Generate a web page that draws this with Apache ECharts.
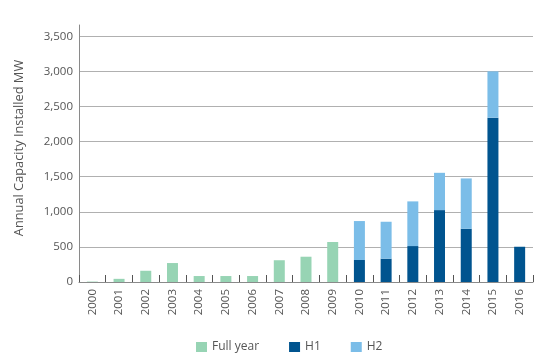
<!DOCTYPE html>
<html>
<head>
<meta charset="utf-8">
<script src="https://cdn.jsdelivr.net/npm/echarts@6/dist/echarts.min.js"></script>
<style>
html,body{margin:0;padding:0;background:#fff;}
#c{width:547px;height:359px;}
</style>
</head>
<body>
<div id="c"></div>
<script>
var years = ['2000','2001','2002','2003','2004','2005','2006','2007','2008','2009','2010','2011','2012','2013','2014','2015','2016'];
var fullYear = [6, 45, 160, 270, 85, 85, 85, 310, 360, 570, null, null, null, null, null, null, null];
var h1 = [null, null, null, null, null, null, null, null, null, null, 313, 332, 512, 1024, 758, 2340, 502];
var h2 = [null, null, null, null, null, null, null, null, null, null, 555, 526, 636, 531, 717, 660, null];
var yTickInterval = 500;
var yAxisTitle = 'Annual Capacity Installed MW';

var font = 'Open Sans';
var chart = echarts.init(document.getElementById('c'), null, {renderer: 'canvas'});
chart.setOption({
  animation: false,
  textStyle: {fontFamily: font},
  grid: {left: 79, right: 14, top: 25, bottom: 77, containLabel: false},
  legend: {
    left: 191, top: 336,
    itemWidth: 11, itemHeight: 10, itemGap: 30,
    icon: 'rect',
    textStyle: {fontFamily: font, fontSize: 12, color: '#555'},
    data: ['Full year', 'H1', 'H2']
  },
  graphic: [{
    type: 'text', x: 19, y: 148, rotation: Math.PI / 2,
    style: {text: yAxisTitle, fontFamily: font, fontSize: 12.8, fill: '#555', textAlign: 'center', textVerticalAlign: 'middle'}
  }],
  xAxis: {
    type: 'category', data: years, boundaryGap: true,
    axisLine: {lineStyle: {color: '#8a8a8a', width: 1}},
    axisTick: {show: true, inside: true, length: 7, interval: 0, lineStyle: {color: '#555'}},
    axisLabel: {rotate: 90, interval: 0, margin: 7, fontSize: 11.5, color: '#555', fontFamily: font}
  },
  yAxis: {
    type: 'value', min: 0, max: 3660, interval: yTickInterval,
    axisLine: {show: true, lineStyle: {color: '#8a8a8a'}},
    axisTick: {show: false},
    axisLabel: {showMaxLabel: false, margin: 6, fontSize: 11.5, color: '#555', fontFamily: font,
      formatter: function (v) { return v.toLocaleString('en-US'); }},
    splitLine: {show: true, showMaxLine: false, lineStyle: {color: '#b0b0b0', width: 1}}
  },
  series: [
    {name: 'Full year', type: 'bar', stack: 't', data: fullYear, barWidth: 11, itemStyle: {color: '#97d4b4'}},
    {name: 'H1', type: 'bar', stack: 't', data: h1, barWidth: 11, itemStyle: {color: '#00548f'}},
    {name: 'H2', type: 'bar', stack: 't', data: h2, barWidth: 11, itemStyle: {color: '#7bbde8'}}
  ]
});
</script>
</body>
</html>
